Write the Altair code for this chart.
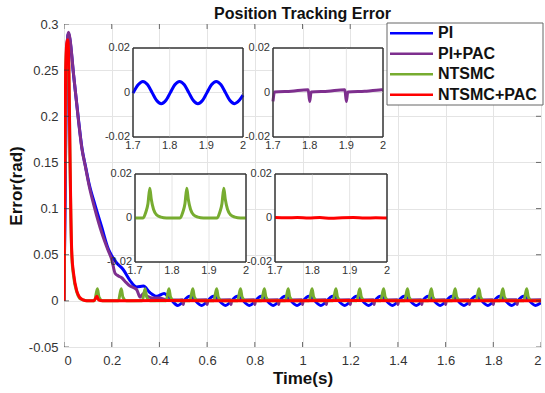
import altair as alt
import pandas as pd

FONT = "Liberation Sans"
names = ["PI", "PI+PAC", "NTSMC", "NTSMC+PAC"]
colors = ["#0000FF", "#7E2F8E", "#77AC30", "#FF0000"]

x_ticks = [0, 0.2, 0.4, 0.6, 0.8, 1.0, 1.2, 1.4, 1.6, 1.8, 2.0]
y_ticks = [-0.05, 0, 0.05, 0.1, 0.15, 0.2, 0.25, 0.3]

# ---- main series ----
t_pi = [0, 0.005, 0.010, 0.015, 0.019, 0.025, 0.040, 0.060, 0.075, 0.090, 0.105, 0.130, 0.158,
        0.186, 0.200, 0.221, 0.248, 0.277, 0.305, 0.333, 0.360, 0.389, 0.420, 0.440,
        0.477, 0.527, 0.577, 0.627, 0.677, 0.727, 0.777, 0.827, 0.877, 0.927, 0.977,
        1.027, 1.077, 1.127, 1.177, 1.227, 1.277, 1.327, 1.377, 1.427, 1.477, 1.527,
        1.577, 1.627, 1.677, 1.727, 1.777, 1.827, 1.877, 1.927, 1.977, 2.000]
e_pi = [0, 0.120, 0.240, 0.285, 0.290, 0.283, 0.245, 0.198, 0.166, 0.146, 0.127, 0.104, 0.080,
        0.056, 0.049, 0.041, 0.034, 0.022, 0.015, 0.016, 0.009, 0.005, 0.008, 0.004,
        -0.005, 0.005, -0.005, 0.005, -0.005, 0.005, -0.005, 0.005, -0.005, 0.005, -0.005,
        0.005, -0.005, 0.005, -0.005, 0.005, -0.005, 0.005, -0.005, 0.005, -0.005, 0.005,
        -0.005, 0.005, -0.005, 0.005, -0.005, 0.005, -0.005, 0.005, -0.005, -0.002]

t_pipac = [0, 0.005, 0.010, 0.015, 0.019, 0.025, 0.040, 0.060, 0.075, 0.090, 0.105, 0.130, 0.158,
           0.186, 0.200, 0.214, 0.228, 0.242, 0.260, 0.277, 0.290, 0.305, 0.319, 0.333, 0.350,
           0.370, 0.400, 0.430, 0.470,
           0.497, 0.500, 0.503, 0.597, 0.600, 0.603, 0.697, 0.700, 0.703,
           0.797, 0.800, 0.803, 0.897, 0.900, 0.903, 0.997, 1.000, 1.003,
           1.097, 1.100, 1.103, 1.197, 1.200, 1.203, 1.297, 1.300, 1.303,
           1.397, 1.400, 1.403, 1.497, 1.500, 1.503, 1.597, 1.600, 1.603,
           1.697, 1.700, 1.703, 1.797, 1.800, 1.803, 1.897, 1.900, 1.903,
           1.997, 2.000]
e_pipac = [0, 0.120, 0.240, 0.285, 0.291, 0.284, 0.246, 0.197, 0.165, 0.145, 0.125, 0.099, 0.074,
           0.054, 0.045, 0.030, 0.027, 0.025, 0.020, 0.016, 0.0145, 0.012, 0.004, 0.008, 0.005,
           0.003, 0.003, 0.001, 0.0008,
           0.0013, -0.004, 0.0003, 0.0013, -0.004, 0.0003, 0.0013, -0.004, 0.0003,
           0.0013, -0.004, 0.0003, 0.0013, -0.004, 0.0003, 0.0013, -0.004, 0.0003,
           0.0013, -0.004, 0.0003, 0.0013, -0.004, 0.0003, 0.0013, -0.004, 0.0003,
           0.0013, -0.004, 0.0003, 0.0013, -0.004, 0.0003, 0.0013, -0.004, 0.0003,
           0.0013, -0.004, 0.0003, 0.0013, -0.004, 0.0003, 0.0013, -0.004, 0.0003,
           0.0013, 0.0013]

t_ntsmc = [0.000, 0.003, 0.007, 0.012, 0.016, 0.020, 0.025, 0.029, 0.033, 0.040, 0.053, 0.065, 0.080, 0.095,
           0.128, 0.140, 0.147, 0.162,
           0.228, 0.240, 0.247, 0.262,
           0.328, 0.340, 0.347, 0.362,
           0.428, 0.440, 0.447, 0.462,
           0.528, 0.540, 0.547, 0.562,
           0.628, 0.640, 0.647, 0.662,
           0.728, 0.740, 0.747, 0.762,
           0.828, 0.840, 0.847, 0.862,
           0.928, 0.940, 0.947, 0.962,
           1.028, 1.040, 1.047, 1.062,
           1.128, 1.140, 1.147, 1.162,
           1.228, 1.240, 1.247, 1.262,
           1.328, 1.340, 1.347, 1.362,
           1.428, 1.440, 1.447, 1.462,
           1.528, 1.540, 1.547, 1.562,
           1.628, 1.640, 1.647, 1.662,
           1.728, 1.740, 1.747, 1.762,
           1.828, 1.840, 1.847, 1.862,
           1.928, 1.940, 1.947, 1.962,
           2.000]
e_ntsmc = [0, 0.140, 0.245, 0.275, 0.278, 0.255, 0.155, 0.085, 0.047, 0.027, 0.010, 0.003, 0.001, 0,
           0, 0.013, 0.004, 0,
           0, 0.013, 0.004, 0,
           0, 0.013, 0.004, 0,
           0, 0.013, 0.004, 0,
           0, 0.013, 0.004, 0,
           0, 0.013, 0.004, 0,
           0, 0.013, 0.004, 0,
           0, 0.013, 0.004, 0,
           0, 0.013, 0.004, 0,
           0, 0.013, 0.004, 0,
           0, 0.013, 0.004, 0,
           0, 0.013, 0.004, 0,
           0, 0.013, 0.004, 0,
           0, 0.013, 0.004, 0,
           0, 0.013, 0.004, 0,
           0, 0.013, 0.004, 0,
           0, 0.013, 0.004, 0,
           0, 0.013, 0.004, 0,
           0, 0.013, 0.004, 0,
           0]

t_ntsmcpac = [0, 0.003, 0.007, 0.012, 0.016, 0.020, 0.025, 0.029, 0.033, 0.040, 0.053, 0.065, 0.080,
              0.095, 0.125, 0.133, 0.138, 0.145, 0.160, 0.400, 0.800, 1.200, 1.600, 2.000]
e_ntsmcpac = [0, 0.150, 0.250, 0.280, 0.283, 0.260, 0.160, 0.090, 0.050, 0.030, 0.011, 0.004, 0.001,
              0, 0, 0.003, 0.005, 0.001, 0, 0.0003, 0, 0.0003, 0, 0]

# ---- inset series (1.7 s .. 2 s) ----
in_x_ticks = [1.7, 1.8, 1.9, 2.0]
in_x_labels = ["1.7", "1.8", "1.9", "2"]
in_y_ticks = [-0.02, 0, 0.02]
in_y_labels = ["-0.02", "0", "0.02"]

in_t_pi = [1.700, 1.714, 1.727, 1.740, 1.752, 1.764, 1.777, 1.790, 1.802, 1.814, 1.827, 1.840, 1.852,
           1.864, 1.877, 1.890, 1.902, 1.914, 1.927, 1.940, 1.952, 1.964, 1.977, 1.990, 2.000]
in_e_pi = [-0.0003, 0.0035, 0.005, 0.0035, 0, -0.0035, -0.005, -0.0035, 0, 0.0035, 0.005, 0.0035, 0,
           -0.0035, -0.005, -0.0035, 0, 0.0035, 0.005, 0.0035, 0, -0.0035, -0.005, -0.0035, -0.0012]

in_t_pipac = [1.700, 1.704, 1.750, 1.796, 1.800, 1.804, 1.850, 1.896, 1.900, 1.904, 1.950, 1.996, 2.000]
in_e_pipac = [-0.004, 0.0002, 0.0006, 0.0012, -0.004, 0.0002, 0.0006, 0.0012, -0.004, 0.0002, 0.0006, 0.0012, 0.0013]

in_t_ntsmc = [1.700, 1.722, 1.729, 1.735, 1.740, 1.744, 1.750, 1.758, 1.770, 1.785,
              1.822, 1.829, 1.835, 1.840, 1.844, 1.850, 1.858, 1.870, 1.885,
              1.922, 1.929, 1.935, 1.940, 1.944, 1.950, 1.958, 1.970, 1.985, 2.000]
in_e_ntsmc = [0, 0, 0.0025, 0.0065, 0.0135, 0.0085, 0.0040, 0.0015, 0.0004, 0,
              0, 0.0025, 0.0065, 0.0135, 0.0085, 0.0040, 0.0015, 0.0004, 0,
              0, 0.0025, 0.0065, 0.0135, 0.0085, 0.0040, 0.0015, 0.0004, 0, 0]

in_t_ntsmcpac = [1.70, 1.73, 1.76, 1.79, 1.82, 1.85, 1.88, 1.91, 1.94, 1.97, 2.00]
in_e_ntsmcpac = [0.0002, 0.0001, 0.0002, 0, 0.0002, -0.0001, 0.0001, 0.0002, 0, 0.0001, 0]

LABEL_EXPR = "replace(datum.label, '\u2212', '-')"
FRAME = "#333333"
GRID = "#e4e4e4"

x_main = alt.Scale(domain=[0, 2], nice=False, zero=False)
y_main = alt.Scale(domain=[-0.05, 0.3], nice=False, zero=False)
color_scale = alt.Scale(domain=names, range=colors)

x_axis = alt.Axis(values=x_ticks, format=".1~f", labelExpr=LABEL_EXPR, grid=True, gridColor=GRID,
                  domain=False, ticks=False, labelFont=FONT, labelFontSize=13, labelColor="#333333",
                  labelPadding=7, title="Time(s)", titleFont=FONT, titleFontSize=17,
                  titleFontWeight="bold", titleColor="#111111", titlePadding=3)
y_axis = alt.Axis(values=y_ticks, format=".2~f", labelExpr=LABEL_EXPR, grid=True, gridColor=GRID,
                  domain=False, ticks=False, labelFont=FONT, labelFontSize=13, labelColor="#333333",
                  labelPadding=6, title="Error(rad)", titleFont=FONT, titleFontSize=17,
                  titleFontWeight="bold", titleColor="#111111", titlePadding=3)


def main_line(name, t, e):
    df = pd.DataFrame({"t": t, "e": e, "series": name})
    return alt.Chart(df).mark_line(strokeWidth=3, interpolate="monotone", clip=True,
                                   strokeJoin="round").encode(
        x=alt.X("t:Q", scale=x_main, axis=x_axis),
        y=alt.Y("e:Q", scale=y_main, axis=y_axis),
        color=alt.Color("series:N", scale=color_scale, legend=None),
    )


# inward tick marks on the four sides of the box (clipped to the plot area)
xt_df = pd.DataFrame({"t": x_ticks})
yt_df = pd.DataFrame({"e": y_ticks})
xticks_bottom = alt.Chart(xt_df).mark_tick(orient="vertical", size=10, thickness=1, color=FRAME,
                                           clip=True).encode(
    x=alt.X("t:Q", scale=x_main, axis=x_axis), y=alt.Y(datum=-0.05, scale=y_main, axis=y_axis))
xticks_top = alt.Chart(xt_df).mark_tick(orient="vertical", size=10, thickness=1, color=FRAME,
                                        clip=True).encode(
    x=alt.X("t:Q", scale=x_main, axis=x_axis), y=alt.Y(datum=0.3, scale=y_main, axis=y_axis))
yticks_left = alt.Chart(yt_df).mark_tick(orient="horizontal", size=10, thickness=1, color=FRAME,
                                         clip=True).encode(
    y=alt.Y("e:Q", scale=y_main, axis=y_axis), x=alt.X(datum=0, scale=x_main, axis=x_axis))
yticks_right = alt.Chart(yt_df).mark_tick(orient="horizontal", size=10, thickness=1, color=FRAME,
                                          clip=True).encode(
    y=alt.Y("e:Q", scale=y_main, axis=y_axis), x=alt.X(datum=2, scale=x_main, axis=x_axis))

main = alt.layer(
    main_line("PI", t_pi, e_pi),
    main_line("PI+PAC", t_pipac, e_pipac),
    main_line("NTSMC", t_ntsmc, e_ntsmc),
    main_line("NTSMC+PAC", t_ntsmcpac, e_ntsmcpac),
    xticks_bottom, xticks_top, yticks_left, yticks_right,
)


def inset(t, e, color, xr, yr):
    xs = alt.Scale(domain=[1.7, 2.0], range=xr, nice=False, zero=False)
    ys = alt.Scale(domain=[-0.02, 0.02], range=yr, nice=False, zero=False)
    frame_df = pd.DataFrame({"x": [1.7], "x2": [2.0], "y": [-0.02], "y2": [0.02]})
    frame = alt.Chart(frame_df).mark_rect(fill="white", stroke=FRAME, strokeWidth=1).encode(
        x=alt.X("x:Q", scale=xs, axis=None), x2="x2",
        y=alt.Y("y:Q", scale=ys, axis=None), y2="y2")
    vgrid_df = pd.DataFrame({"x": in_x_ticks[1:3], "y": [-0.02] * 2, "y2": [0.02] * 2})
    vgrid = alt.Chart(vgrid_df).mark_rule(color=GRID, strokeWidth=1).encode(
        x=alt.X("x:Q", scale=xs, axis=None),
        y=alt.Y("y:Q", scale=ys, axis=None), y2="y2")
    hgrid_df = pd.DataFrame({"x": [1.7], "x2": [2.0], "y": [0.0]})
    hgrid = alt.Chart(hgrid_df).mark_rule(color=GRID, strokeWidth=1).encode(
        x=alt.X("x:Q", scale=xs, axis=None), x2="x2",
        y=alt.Y("y:Q", scale=ys, axis=None))
    line_df = pd.DataFrame({"t": t, "e": e})
    line = alt.Chart(line_df).mark_line(color=color, strokeWidth=3, interpolate="monotone",
                                        strokeJoin="round").encode(
        x=alt.X("t:Q", scale=xs, axis=None),
        y=alt.Y("e:Q", scale=ys, axis=None))
    border = alt.Chart(frame_df).mark_rect(filled=False, stroke=FRAME, strokeWidth=1).encode(
        x=alt.X("x:Q", scale=xs, axis=None), x2="x2",
        y=alt.Y("y:Q", scale=ys, axis=None), y2="y2")
    xl_df = pd.DataFrame({"x": in_x_ticks, "y": [-0.02] * 4, "lab": in_x_labels})
    xlab = alt.Chart(xl_df).mark_text(font=FONT, fontSize=11, color="#333333", align="center",
                                      baseline="middle", dy=9).encode(
        x=alt.X("x:Q", scale=xs, axis=None),
        y=alt.Y("y:Q", scale=ys, axis=None), text="lab:N")
    yl_df = pd.DataFrame({"x": [1.7] * 3, "y": in_y_ticks, "lab": in_y_labels})
    ylab = alt.Chart(yl_df).mark_text(font=FONT, fontSize=11, color="#333333", align="right",
                                      baseline="middle", dx=-3).encode(
        x=alt.X("x:Q", scale=xs, axis=None),
        y=alt.Y("y:Q", scale=ys, axis=None), text="lab:N")
    return alt.layer(frame, vgrid, hgrid, line, border, xlab, ylab)


inset1 = inset(in_t_pi, in_e_pi, colors[0], [69, 179], [113, 24])
inset2 = inset(in_t_pipac, in_e_pipac, colors[1], [209, 319], [113, 24])
inset3 = inset(in_t_ntsmc, in_e_ntsmc, colors[2], [71, 182], [238, 150])
inset4 = inset(in_t_ntsmcpac, in_e_ntsmcpac, colors[3], [211, 323], [238, 150])

# ---- legend box (MATLAB style), drawn through its own scales ----
box_df = pd.DataFrame({"x": [0], "x2": [1], "y": [0], "y2": [1]})
lg_box = alt.Chart(box_df).mark_rect(fill="white", stroke="#666666", strokeWidth=1).encode(
    x=alt.X("x:Q", scale=alt.Scale(domain=[0, 1], range=[323, 479]), axis=None), x2="x2",
    y=alt.Y("y:Q", scale=alt.Scale(domain=[0, 1], range=[81, -1]), axis=None), y2="y2")
lg_df = pd.DataFrame({"series": names, "row": list(range(len(names))), "x0": 0, "x1": 1})
lg_xs = alt.Scale(domain=[0, 1], range=[326, 369])
lg_ys = alt.Scale(domain=[-0.5, len(names) - 0.5], range=[-1, 81])
lg_lines = alt.Chart(lg_df).mark_rule(strokeWidth=2.5).encode(
    x=alt.X("x0:Q", scale=lg_xs, axis=None), x2="x1",
    y=alt.Y("row:Q", scale=lg_ys, axis=None),
    color=alt.Color("series:N", scale=color_scale, legend=None))
lg_text = alt.Chart(lg_df).mark_text(font=FONT, fontSize=16, fontWeight="bold", color="#111111",
                                     align="left", baseline="middle", dx=5).encode(
    x=alt.X("x1:Q", scale=lg_xs, axis=None),
    y=alt.Y("row:Q", scale=lg_ys, axis=None), text="series:N")
legend_layer = alt.layer(lg_box, alt.layer(lg_lines, lg_text)).resolve_scale(
    x="independent", y="independent")

chart = alt.layer(main, inset1, inset2, inset3, inset4, legend_layer).resolve_scale(
    x="independent", y="independent"
).properties(
    width=477, height=323,
    title=alt.Title("Position Tracking Error", font=FONT, fontSize=16, fontWeight="bold",
                    color="#111111", anchor="middle", frame="group", baseline="alphabetic",
                    offset=5, dy=22),
    padding={"left": 64, "top": 24, "right": 4, "bottom": 46},
    autosize=alt.AutoSizeParams(type="none"),
).configure_view(stroke=FRAME, strokeWidth=1).configure(background="white")

chart.save("out.html", embed_options={"renderer": "svg", "actions": False})
